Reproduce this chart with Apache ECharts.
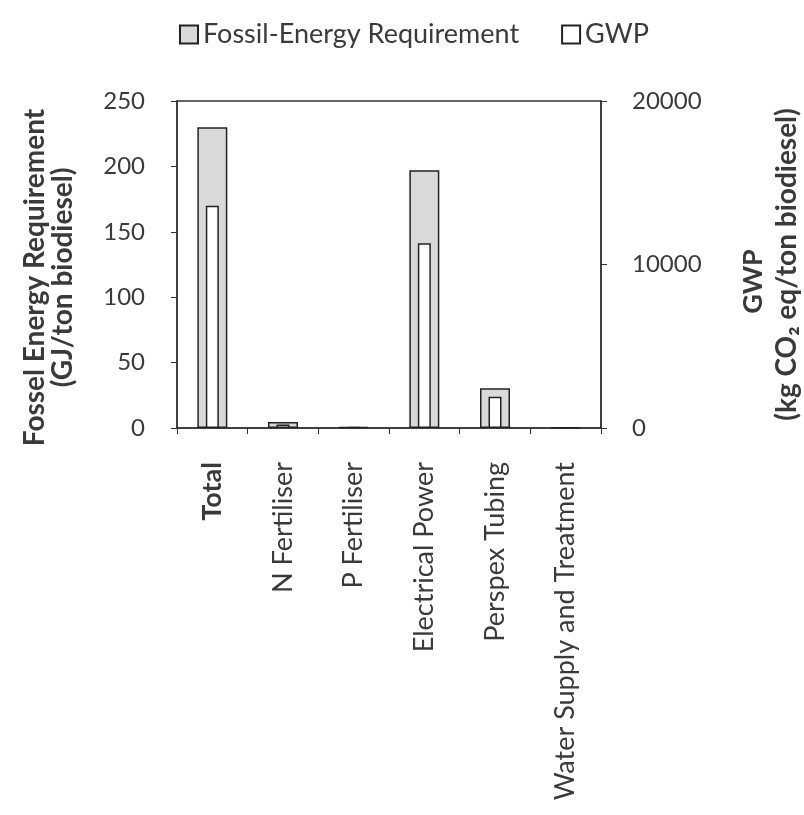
<!DOCTYPE html>
<html><head><meta charset="utf-8">
<script src="https://cdn.jsdelivr.net/npm/echarts@6/dist/echarts.min.js"></script>
<style>html,body{margin:0;padding:0;background:#fff}#c{width:804px;height:815px}</style>
</head><body><div id="c"></div>
<script>
const categories = ["Total", "N Fertiliser", "P Fertiliser", "Electrical Power", "Perspex Tubing", "Water Supply and Treatment"];
const fossilEnergy = [230, 4.5, 0.8, 197, 30.3, 0.5];
const gwp = [13600, 220, 50, 11300, 1910, 30];
const leftTicks = [0, 250, 50];
const rightTicks = [0, 20000, 10000];

const FONT = 'Lato, "Open Sans", sans-serif';
const TXT = '#3a3a3a';
const chart = echarts.init(document.getElementById('c'), null, {renderer: 'canvas'});
chart.setOption({
  animation: false,
  backgroundColor: '#fff',
  textStyle: {fontFamily: FONT},
  legend: {
    top: 16, left: 174,
    itemWidth: 18, itemHeight: 18, itemGap: 42,
    icon: 'rect',
    textStyle: {fontSize: 27, color: TXT, fontFamily: FONT},
    data: ['Fossil-Energy Requirement', 'GWP']
  },
  grid: {left: 177, right: 203, top: 101, bottom: 387, outerBoundsMode: 'none', containLabel: false,
         show: true, borderColor: '#333', borderWidth: 1.5, backgroundColor: 'transparent'},
  xAxis: [{
    type: 'category', data: categories,
    axisLine: {lineStyle: {color: '#333', width: 1.5}},
    axisTick: {show: true, alignWithLabel: false, length: 6, lineStyle: {color: '#333'}},
    axisLabel: {
      rotate: 90, interval: 0, margin: 34, fontSize: 27, color: TXT, fontFamily: FONT,
      formatter: v => v === 'Total' ? '{b|' + v + '}' : v,
      rich: {b: {fontWeight: 'bold', fontSize: 27, color: TXT, fontFamily: FONT}}
    }
  }, {
    type: 'category', data: categories, show: false
  }],
  yAxis: [{
    type: 'value', min: leftTicks[0], max: leftTicks[1], interval: leftTicks[2],
    position: 'left',
    axisLine: {show: true, lineStyle: {color: '#333', width: 1.5}},
    axisTick: {show: true, length: 6, lineStyle: {color: '#333'}},
    splitLine: {show: false},
    axisLabel: {fontSize: 24, color: TXT, margin: 32, fontFamily: FONT},
    name: 'Fossel Energy Requirement\n(GJ/ton biodiesel)',
    nameLocation: 'middle', nameRotate: 90, nameGap: 100,
    nameTextStyle: {fontSize: 28, fontWeight: 'bold', color: TXT, lineHeight: 28, fontFamily: FONT, padding: [0, 26, 0, 0]}
  }, {
    type: 'value', min: rightTicks[0], max: rightTicks[1], interval: rightTicks[2],
    position: 'right',
    axisLine: {show: true, lineStyle: {color: '#333', width: 1.5}},
    axisTick: {show: true, length: 6, lineStyle: {color: '#333'}},
    splitLine: {show: false},
    axisLabel: {fontSize: 24, color: TXT, margin: 31, fontFamily: FONT, formatter: v => String(v)},
    name: '{g|GWP}\n{n|(kg CO\u2082 eq/ton biodiesel)}',
    nameLocation: 'middle', nameRotate: 90, nameGap: 135,
    nameTextStyle: {
      fontSize: 28, fontWeight: 'bold', color: TXT, lineHeight: 34, fontFamily: FONT,
      rich: {
        g: {fontSize: 27, fontWeight: 'bold', color: TXT, lineHeight: 34, fontFamily: FONT, padding: [0, 34, 0, 0]},
        n: {fontSize: 28, fontWeight: 'bold', color: TXT, lineHeight: 34, fontFamily: FONT}
      }
    }
  }],
  series: [{
    name: 'Fossil-Energy Requirement', type: 'bar', xAxisIndex: 0, yAxisIndex: 0,
    data: fossilEnergy, barWidth: 30,
    itemStyle: {color: '#d9d9d9', borderColor: '#222', borderWidth: 1.5}
  }, {
    name: 'GWP', type: 'bar', xAxisIndex: 1, yAxisIndex: 1,
    data: gwp, barWidth: 13,
    itemStyle: {color: '#ffffff', borderColor: '#222', borderWidth: 1.5}
  }]
});
</script></body></html>
